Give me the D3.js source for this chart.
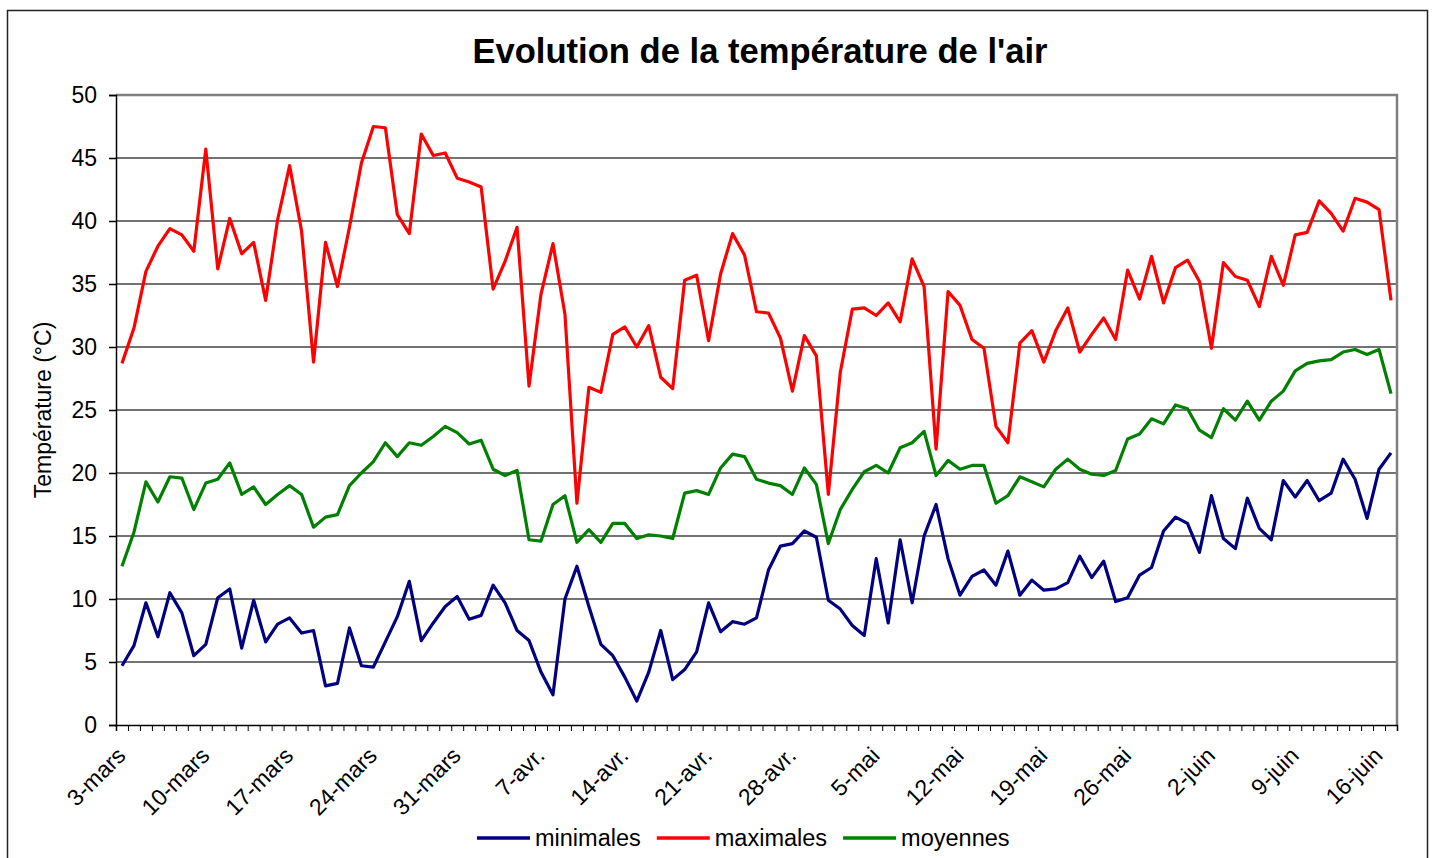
<!DOCTYPE html>
<html>
<head>
<meta charset="utf-8">
<script src="https://cdnjs.cloudflare.com/ajax/libs/d3/7.8.5/d3.min.js"></script>
<style>
body { margin: 0; background: #fff; }
svg text { font-family: "Liberation Sans", Arial, sans-serif; fill: #000; }
</style>
</head>
<body>
<svg id="chart"></svg>
<script>
const days = d3.timeDay.range(new Date(2009, 2, 3), new Date(2009, 5, 18))
const tickLabels = ['3-mars', '10-mars', '17-mars', '24-mars', '31-mars', '7-avr.', '14-avr.', '21-avr.',
    '28-avr.', '5-mai', '12-mai', '19-mai', '26-mai', '2-juin', '9-juin', '16-juin']
const yTicks = [0, 5, 10, 15, 20, 25, 30, 35, 40, 45, 50]

const minimales = [4.7, 6.3, 9.7, 7.0, 10.5, 8.9, 5.5, 6.4, 10.1, 10.8, 6.1, 9.9, 6.6, 8.0, 8.5, 7.3, 7.5, 3.1, 3.3, 7.7,
    4.7, 4.6, 6.6, 8.6, 11.4, 6.7, 8.1, 9.4, 10.2, 8.4, 8.7, 11.1, 9.7, 7.5, 6.7, 4.2, 2.4, 10.0, 12.6, 9.4,
    6.4, 5.5, 3.8, 1.9, 4.2, 7.5, 3.6, 4.4, 5.8, 9.7, 7.4, 8.2, 8.0, 8.5, 12.3, 14.2, 14.4, 15.4, 14.9, 9.9,
    9.2, 7.9, 7.1, 13.2, 8.1, 14.7, 9.7, 15.0, 17.5, 13.2, 10.3, 11.8, 12.3, 11.1, 13.8, 10.3, 11.5, 10.7, 10.8, 11.3,
    13.4, 11.7, 13.0, 9.8, 10.1, 11.9, 12.5, 15.4, 16.5, 16.0, 13.7, 18.2, 14.8, 14.0, 18.0, 15.6, 14.7, 19.4, 18.1, 19.4,
    17.8, 18.4, 21.1, 19.5, 16.4, 20.3, 21.6]
const maximales = [28.7, 31.5, 36.0, 38.0, 39.4, 38.9, 37.6, 45.7, 36.2, 40.2, 37.4, 38.3, 33.7, 40.1, 44.4, 39.2, 28.8, 38.3, 34.8, 39.5,
    44.6, 47.5, 47.4, 40.5, 39.0, 46.9, 45.2, 45.4, 43.4, 43.1, 42.7, 34.6, 36.8, 39.5, 26.9, 34.2, 38.2, 32.6, 17.6, 26.8,
    26.4, 31.0, 31.6, 30.0, 31.7, 27.6, 26.7, 35.3, 35.7, 30.5, 35.8, 39.0, 37.3, 32.8, 32.7, 30.7, 26.5, 30.9, 29.3, 18.3,
    28.0, 33.0, 33.1, 32.5, 33.5, 32.0, 37.0, 34.8, 21.9, 34.4, 33.3, 30.6, 29.9, 23.7, 22.4, 30.3, 31.3, 28.8, 31.3, 33.1,
    29.6, 31.0, 32.3, 30.6, 36.1, 33.8, 37.2, 33.5, 36.3, 36.9, 35.2, 29.9, 36.7, 35.6, 35.3, 33.2, 37.2, 34.9, 38.9, 39.1,
    41.6, 40.6, 39.2, 41.8, 41.5, 40.9, 33.7]
const moyennes = [12.6, 15.3, 19.3, 17.7, 19.7, 19.6, 17.1, 19.2, 19.5, 20.8, 18.3, 18.9, 17.5, 18.3, 19.0, 18.3, 15.7, 16.5, 16.7, 19.0,
    20.0, 20.9, 22.4, 21.3, 22.4, 22.2, 22.9, 23.7, 23.2, 22.3, 22.6, 20.3, 19.8, 20.2, 14.7, 14.6, 17.5, 18.2, 14.5, 15.5,
    14.5, 16.0, 16.0, 14.8, 15.1, 15.0, 14.8, 18.4, 18.6, 18.3, 20.4, 21.5, 21.3, 19.5, 19.2, 19.0, 18.3, 20.4, 19.1, 14.4,
    17.1, 18.7, 20.1, 20.6, 20.0, 22.0, 22.4, 23.3, 19.8, 21.0, 20.3, 20.6, 20.6, 17.6, 18.2, 19.7, 19.3, 18.9, 20.3, 21.1,
    20.3, 19.9, 19.8, 20.2, 22.7, 23.1, 24.3, 23.9, 25.4, 25.1, 23.4, 22.8, 25.1, 24.2, 25.7, 24.2, 25.7, 26.5, 28.1, 28.7,
    28.9, 29.0, 29.6, 29.8, 29.4, 29.8, 26.3]

const series = [
    {name: 'minimales', values: minimales, color: '#000080'},
    {name: 'maximales', values: maximales, color: '#ff0000'},
    {name: 'moyennes', values: moyennes, color: '#008000'}
]

const width = 1434
const height = 858
const margin = {top: 95, right: 37, bottom: 133, left: 116}

const svg = d3.select('#chart')
    .attr('width', width)
    .attr('height', height)

// outer frame
svg.append('rect')
    .attr('x', 7.5).attr('y', 10.5)
    .attr('width', 1420).attr('height', 870)
    .attr('fill', 'none')
    .attr('stroke', '#222')
    .attr('stroke-width', 1.5)

const x = d3.scaleBand()
    .domain(days.map((d, i) => i))
    .range([margin.left, width - margin.right])
const xEdge = d3.scaleLinear()
    .domain([0, days.length])
    .range([margin.left, width - margin.right])
const y = d3.scaleLinear()
    .domain([0, 50])
    .range([height - margin.bottom, margin.top])

svg.append('text')
    .attr('x', 760)
    .attr('y', 63)
    .attr('text-anchor', 'middle')
    .attr('font-size', 34.6)
    .attr('font-weight', 'bold')
    .text("Evolution de la température de l'air")

// grid
svg.append('g').selectAll('line')
    .data(yTicks.slice(1, -1))
    .enter().append('line')
        .attr('x1', margin.left).attr('x2', width - margin.right)
        .attr('y1', d => y(d)).attr('y2', d => y(d))
        .attr('stroke', '#444')
        .attr('stroke-width', 1.5)

// plot frame top / right
svg.append('path')
    .attr('d', `M${margin.left},${y(50)}H${width - margin.right}V${y(0)}`)
    .attr('fill', 'none')
    .attr('stroke', '#808080')
    .attr('stroke-width', 2.5)

const yAxis = svg.append('g')
    .attr('transform', `translate(${margin.left},0)`)
    .call(d3.axisLeft(y).tickValues(yTicks).tickSize(7).tickPadding(12))
yAxis.select('.domain').attr('stroke', '#000').attr('stroke-width', 1.5)
yAxis.selectAll('.tick line').attr('stroke', '#000').attr('stroke-width', 1.5)
yAxis.selectAll('.tick text')
    .attr('font-size', 23)
    .attr('font-family', '"Liberation Sans", Arial, sans-serif')

svg.append('text')
    .attr('transform', `translate(51,${(y(0) + y(50)) / 2}) rotate(-90)`)
    .attr('text-anchor', 'middle')
    .attr('font-size', 23)
    .text('Température (°C)')

const xAxis = svg.append('g')
    .attr('transform', `translate(0,${y(0)})`)
    .call(d3.axisBottom(xEdge).tickValues(d3.range(days.length + 1)).tickFormat('').tickSize(6))
xAxis.select('.domain').attr('stroke', '#000').attr('stroke-width', 1.5)
xAxis.selectAll('.tick line').attr('stroke', '#000').attr('stroke-width', 1)

svg.append('g').selectAll('text')
    .data(tickLabels)
    .enter().append('text')
        .attr('transform', (d, i) => `translate(${x(i * 7) + x.bandwidth() / 2 + 5},${y(0) + 32}) rotate(-45)`)
        .attr('text-anchor', 'end')
        .attr('font-size', 23)
        .text(d => d)

const line = d3.line()
    .x((d, i) => x(i) + x.bandwidth() / 2)
    .y(d => y(d))

svg.append('g').selectAll('path')
    .data(series)
    .enter().append('path')
        .attr('d', d => line(d.values))
        .attr('fill', 'none')
        .attr('stroke', d => d.color)
        .attr('stroke-width', 3.2)
        .attr('stroke-linejoin', 'round')

// legend
const legend = svg.append('g')
const items = legend.selectAll('g')
    .data(series)
    .enter().append('g')
items.append('line')
    .attr('x1', 0).attr('x2', 53)
    .attr('stroke', d => d.color)
    .attr('stroke-width', 3.5)
items.append('text')
    .attr('x', 58)
    .attr('dy', '0.35em')
    .attr('font-size', 23.5)
    .text(d => d.name)
let offset = 0
items.each(function () {
    d3.select(this).attr('transform', `translate(${477 + offset},838)`)
    offset += 58 + this.querySelector('text').getComputedTextLength() + 16
})
</script>
</body>
</html>
